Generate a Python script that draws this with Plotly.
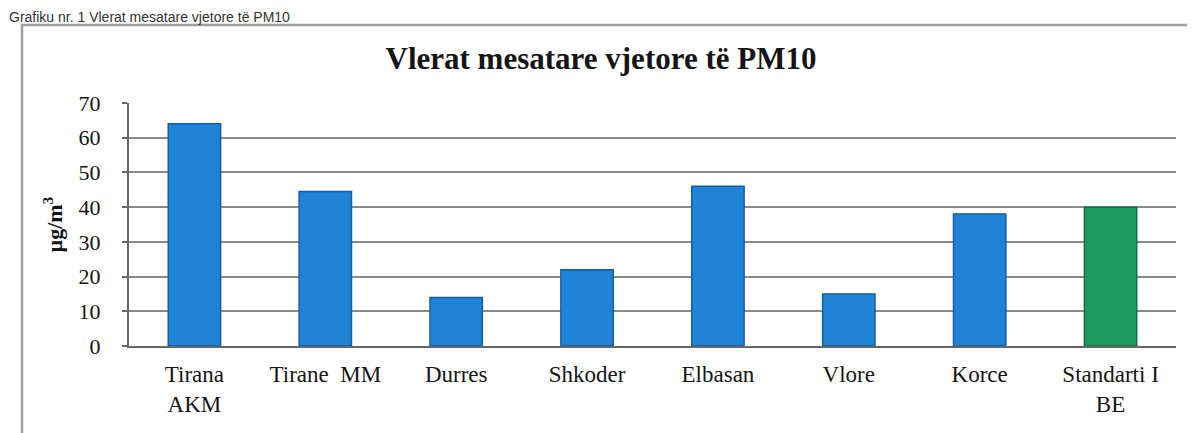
import plotly.graph_objects as go

# data
stations = ["Tirana<br>AKM", "Tirane  MM", "Durres", "Shkoder", "Elbasan", "Vlore", "Korce", "Standarti I<br>BE"]
pm10 = [64, 44.5, 14, 22, 46, 15, 38, 40]
bar_colors = ["#1f83d6"] * 7 + ["#1c9a62"]
edge_colors = ["#125ea8"] * 7 + ["#137048"]
y_ticks = [0, 10, 20, 30, 40, 50, 60, 70]

W, H = 1195, 433
L, R, T, B = 121, 1168, 95, 338


def px(x):
    return (x - L) / (R - L)


def py(y):
    return (B - y) / (B - T)


serif = "Liberation Serif, Times New Roman, serif"

fig = go.Figure()
fig.add_trace(go.Bar(x=stations, y=pm10, width=0.4,
                     marker=dict(color=bar_colors, line=dict(color=edge_colors, width=1.5))))

fig.update_layout(
    width=W, height=H,
    margin=dict(l=L, r=W - R, t=T, b=H - B),
    paper_bgcolor="white", plot_bgcolor="white",
    showlegend=False,
    font=dict(family=serif, size=22, color="#151515"),
    title=dict(text="<b>Vlerat mesatare vjetore të PM10</b>", x=593 / W, xanchor="center",
               y=1 - 50 / H, yanchor="middle", font=dict(family=serif, size=31, color="#151515")),
)
fig.update_xaxes(showline=True, linecolor="#666", linewidth=2, showgrid=False,
                 ticks="", ticklabelstandoff=6, tickfont=dict(size=23))
fig.update_yaxes(range=[0, 70], tickvals=y_ticks, showline=True, linecolor="#666", linewidth=2,
                 showgrid=True, gridcolor="#8a8a8a", gridwidth=1.5, zeroline=False,
                 ticks="outside", ticklen=5, tickcolor="#666", tickwidth=1.5,
                 ticklabelstandoff=17, tickfont=dict(size=22))

# y axis title
fig.add_annotation(text="<b>µg/m<sup>3</sup></b>", x=px(44), y=0.5, xref="paper", yref="paper",
                   xanchor="center", yanchor="middle",
                   textangle=-90, showarrow=False, font=dict(family=serif, size=22, color="#151515"))

# caption of the page above the frame
fig.add_annotation(text="Grafiku nr. 1 Vlerat mesatare vjetore të PM10", x=px(0), y=py(0),
                   xref="paper", yref="paper", xanchor="left", yanchor="top", borderpad=0,
                   showarrow=False, font=dict(family="Liberation Sans, Arial, sans-serif", size=14, color="#333"))

# chart frame
fig.add_shape(type="rect", xref="paper", yref="paper",
              x0=px(14), x1=px(1200), y0=py(428), y1=py(17),
              line=dict(color="#a0a0a0", width=2.5), layer="below")

fig.write_html("out.html")
